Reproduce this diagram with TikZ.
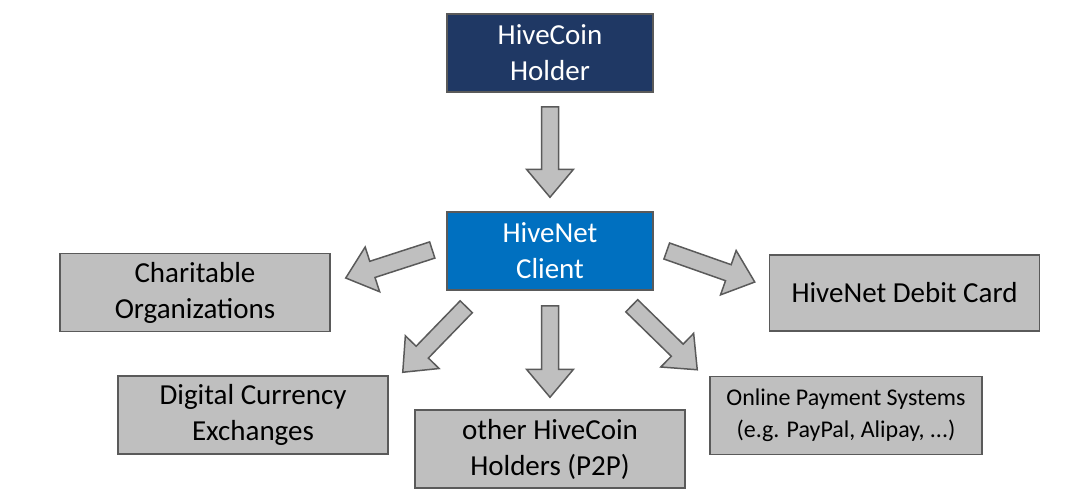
\documentclass[tikz,border=0pt]{standalone}
\usepackage{fontspec}
\setmainfont{Carlito}
\usetikzlibrary{calc}
\definecolor{navy}{HTML}{1F3864}
\definecolor{hiveblue}{HTML}{0070C0}
\definecolor{boxgray}{HTML}{BFBFBF}
\definecolor{edgegray}{HTML}{5A5A5A}
\tikzset{
	box/.style={draw=edgegray,line width=1.5pt,fill=boxgray,inner sep=0pt,align=center,
		minimum width=270pt,minimum height=78pt,font=\fontsize{29}{36}\selectfont},
	topbox/.style={box,minimum width=206pt,text=white},
	fat/.style={draw=edgegray,line width=1.5pt,fill=boxgray,line join=miter}
}
% block arrow from tail #1 to tip #2
\newcommand\fatarrow[2]{%
	\path #1 coordinate(t) #2 coordinate(h) ($(h)!28pt!(t)$) coordinate(n);
	\draw[fat] ($(t)!8.5pt!90:(h)$) -- ($(n)!8.5pt!90:(h)$) -- ($(n)!23.5pt!90:(h)$) -- (h)
		-- ($(n)!23.5pt!-90:(h)$) -- ($(n)!8.5pt!-90:(h)$) -- ($(t)!8.5pt!-90:(h)$) -- cycle;
}
\begin{document}
\begin{tikzpicture}[x=1pt,y=-1pt]
	\useasboundingbox (0,0) rectangle (1090,499);
	\node[topbox,fill=navy] (holder) at (550,53) {HiveCoin\\Holder};
	\node[topbox,fill=hiveblue] (client) at (550,251) {HiveNet\\Client};
	\node[box] (charity) at (195,292.5) {Charitable\\Organizations};
	\node[box,minimum height=76pt] (debit) at (904.5,293) {HiveNet Debit Card};
	\node[box] (digital) at (253,415) {Digital Currency\\Exchanges};
	\node[box] (p2p) at (550,449) {other HiveCoin\\Holders (P2P)};
	\node[box,minimum width=272pt,font=\fontsize{24}{32}\selectfont] (online) at (846,415.5)
		{Online Payment Systems\\(e.g. PayPal, Alipay, ...)};
	\fatarrow{($(holder.south)+(0,14)$)}{($(client.north)+(0,-14)$)}
	\fatarrow{($(client.west)+(-14,-1)$)}{($(charity.east)+(15,-14.5)$)}
	\fatarrow{($(client.east)+(13,0)$)}{($(debit.west)+(-14,-11)$)}
	\fatarrow{($(client.south west)+(20,16)$)}{($(digital.north east)+(14,-3)$)}
	\fatarrow{($(client.south)+(0,15)$)}{($(p2p.north)+(0,-12)$)}
	\fatarrow{($(client.south east)+(-22,15)$)}{($(online.north west)+(-12,-6)$)}
\end{tikzpicture}
\end{document}
